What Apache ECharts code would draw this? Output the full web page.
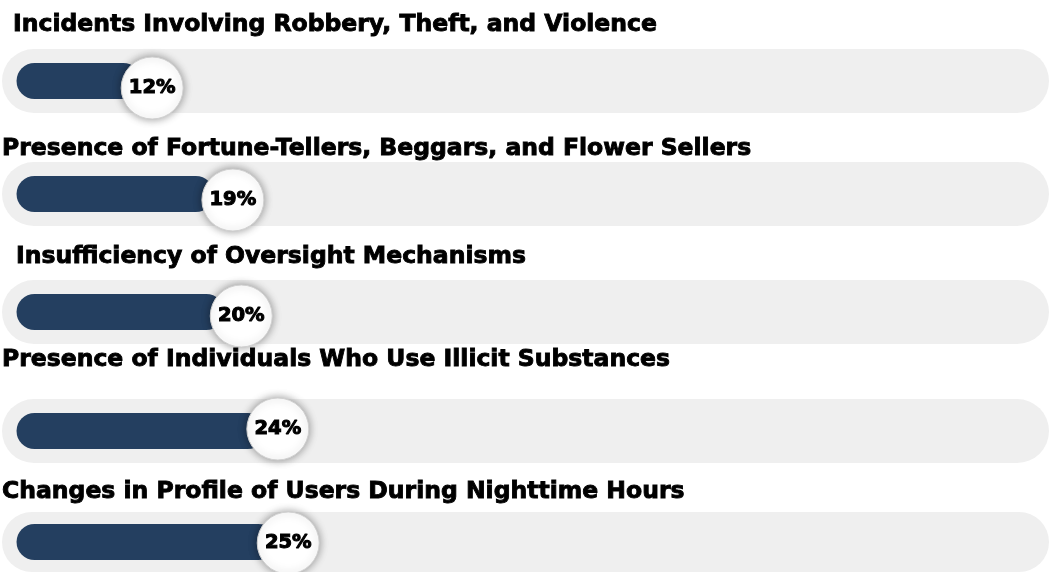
<!DOCTYPE html>
<html>
<head>
<meta charset="utf-8">
<style>
  html, body { margin: 0; padding: 0; background: #ffffff; }
  #chart { width: 1049px; height: 572px; }
</style>
<script src="https://cdn.jsdelivr.net/npm/echarts@6/dist/echarts.min.js"></script>
</head>
<body>
<div id="chart"></div>
<script>
// Survey factors and their shares (%)
const categories = [
  'Incidents Involving Robbery, Theft, and Violence',
  'Presence of Fortune-Tellers, Beggars, and Flower Sellers',
  'Insufficiency of Oversight Mechanisms',
  'Presence of Individuals Who Use Illicit Substances',
  'Changes in Profile of Users During Nighttime Hours'
];
const values = [12, 19, 20, 24, 25];

// Scale of every row: the pale track runs across the full axis range
const axisMin = -1.4;
const axisMax = 99.4;

// Row layout
const rowTop = [49, 162, 280, 399, 512];
const rowHeight = 64;
const titleLeft = [13, 2, 16, 2, 2];
const titleMid = [21, 145, 253, 356, 488];
// badge nudge from the bar end, px
const badgeShiftX = [11, 19, 17, 12, 12];
const badgeShiftY = [7, 6, 4, -2, 1];

const NAVY = '#243f60';
const TRACK = '#efefef';
const FONT = '"DejaVu Sans", Inter, sans-serif';

const grids = [], xAxes = [], yAxes = [], series = [], titles = [];

categories.forEach((name, i) => {
  titles.push({
    text: name,
    left: titleLeft[i],
    top: titleMid[i] - 8,
    padding: 0,
    textStyle: {
      fontFamily: FONT, fontSize: 23.5, fontWeight: 'bold', color: '#000',
      textBorderColor: '#000', textBorderWidth: 0.9
    }
  });
  grids.push({ left: 2, right: 0, top: rowTop[i], height: rowHeight });
  xAxes.push({ type: 'value', gridIndex: i, min: axisMin, max: axisMax, show: false });
  yAxes.push({ type: 'category', gridIndex: i, data: [name], show: false });

  // pale rounded track
  series.push({
    type: 'custom',
    xAxisIndex: i, yAxisIndex: i,
    silent: true,
    z: 1,
    data: [[axisMax, 0]],
    renderItem: function (params, api) {
      const end = api.coord([api.value(0), 0]);
      const start = api.coord([axisMin, 0]);
      const h = api.size([0, 1])[1];
      return {
        type: 'rect',
        shape: { x: start[0], y: end[1] - h / 2, width: end[0] - start[0], height: h, r: h / 2 },
        style: { fill: TRACK }
      };
    }
  });

  // value bar
  series.push({
    type: 'bar',
    xAxisIndex: i, yAxisIndex: i,
    z: 2,
    barWidth: 36,
    data: [values[i]],
    itemStyle: { color: NAVY, borderRadius: 18 },
    silent: true
  });

  // value badge at the bar end
  series.push({
    type: 'scatter',
    xAxisIndex: i, yAxisIndex: i,
    z: 3,
    data: [[values[i], 0]],
    symbol: 'circle',
    symbolSize: 62,
    symbolOffset: [badgeShiftX[i], badgeShiftY[i]],
    itemStyle: {
      color: '#ffffff',
      opacity: 1,
      borderColor: '#d0d0d0',
      borderWidth: 1,
      shadowBlur: 9,
      shadowColor: 'rgba(0,0,0,0.4)'
    },
    label: {
      show: true,
      position: 'inside',
      formatter: p => p.value[0] + '%',
      fontFamily: FONT,
      fontSize: 19.5,
      fontWeight: 'bold',
      color: '#000',
      textBorderColor: '#000',
      textBorderWidth: 1.1
    },
    silent: true
  });
});

const chart = echarts.init(document.getElementById('chart'), null, { renderer: 'canvas' });
chart.setOption({
  backgroundColor: '#ffffff',
  animation: false,
  title: titles,
  grid: grids,
  xAxis: xAxes,
  yAxis: yAxes,
  series: series
});
</script>
</body>
</html>
